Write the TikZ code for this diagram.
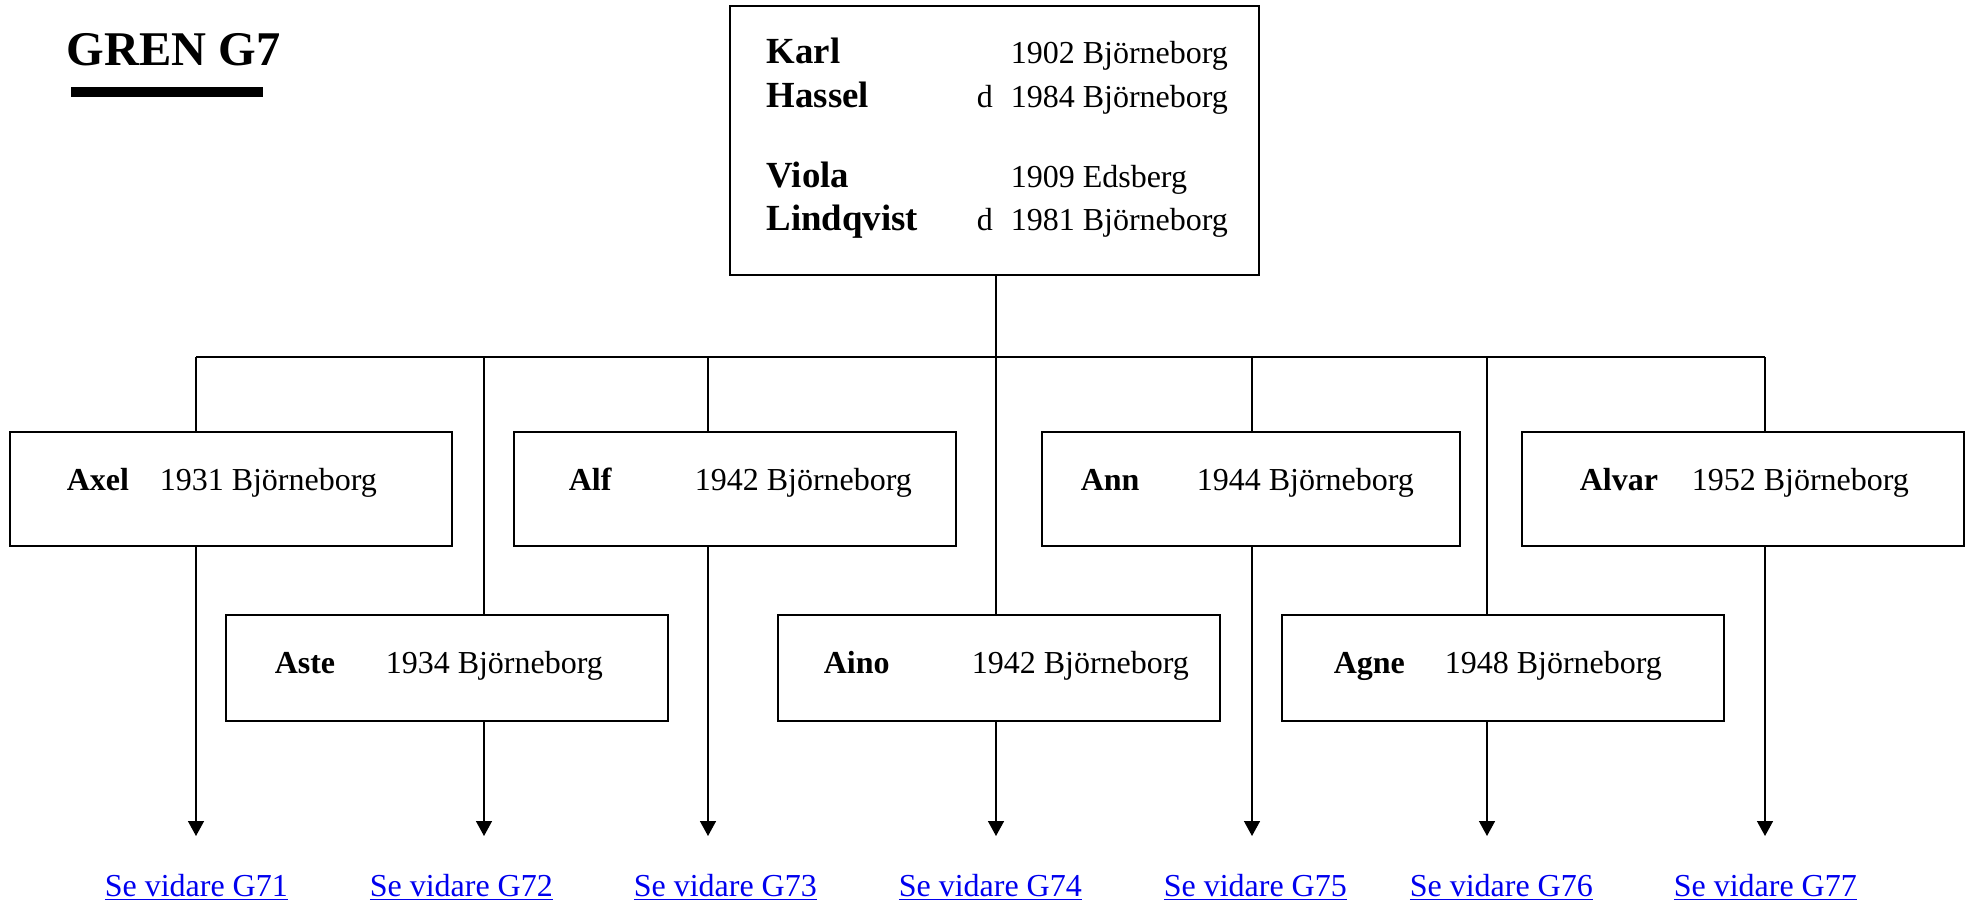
\documentclass[tikz,border=0pt]{standalone}
\usepackage{fontspec}
\setmainfont{Liberation Serif}
\usetikzlibrary{arrows.meta}
\definecolor{linkblue}{RGB}{0,0,238}

\begin{document}
\begin{tikzpicture}[x=0.5pt, y=-0.5pt, ->, >={Triangle[length=7.5pt,width=8pt]}, line width=0.75pt,
	box/.style={draw, rectangle, line width=1pt, inner sep=0pt, minimum width=221pt},
	upper box/.style={box, minimum height=57pt},
	lower box/.style={box, minimum height=53pt},
	given/.style={anchor=base west, inner sep=0pt, font=\fontsize{16}{19}\selectfont\bfseries},
	parent name/.style={given, font=\fontsize{18.4}{22}\selectfont\bfseries},
	dated/.style={anchor=base west, inner sep=0pt, font=\fontsize{16}{19}\selectfont},
	golink/.style={anchor=base west, inner sep=0pt, text=linkblue, font=\fontsize{16}{19}\selectfont}]
	\useasboundingbox (0,0) rectangle (1975,905);

	% rubrik
	\node[anchor=base west, inner sep=0pt, font=\fontsize{24.2}{29}\selectfont\bfseries] (title) at (66,65) {GREN G7};
	\fill[-] (71,87) rectangle (263,97);

	% foraldrar
	\node[box, minimum width=264.5pt, minimum height=134.5pt] (parent) at (994.5,140.5) {};
	\node[parent name] (karl) at (766,63) {Karl};
	\node[parent name] (hassel) at (766,107) {Hassel};
	\node[parent name] (viola) at (766,187) {Viola};
	\node[parent name] (lindqvist) at (766,230) {Lindqvist};
	\node[dated] (d1) at (976,107) {d};
	\node[dated] (d2) at (976,230) {d};
	\node[dated] (karl date) at (1010,63) {1902 Björneborg};
	\node[dated] (hassel date) at (1010,107) {1984 Björneborg};
	\node[dated] (viola date) at (1010,187) {1909 Edsberg};
	\node[dated] (lindqvist date) at (1010,230) {1981 Björneborg};

	% barn
	\node[upper box] (axel) at (230.5,489) {};
	\node[upper box] (alf) at (734.5,489) {};
	\node[upper box, minimum width=209pt] (ann) at (1251,489) {};
	\node[upper box] (alvar) at (1743,489) {};
	\node[lower box] (aste) at (447,668) {};
	\node[lower box] (aino) at (999,668) {};
	\node[lower box] (agne) at (1503,668) {};

	\node[given] (axel name) at (66,490) {Axel};
	\node[dated] (axel date) at (159,490) {1931 Björneborg};
	\node[given] (alf name) at (568,490) {Alf};
	\node[dated] (alf date) at (694,490) {1942 Björneborg};
	\node[given] (ann name) at (1080,490) {Ann};
	\node[dated] (ann date) at (1196,490) {1944 Björneborg};
	\node[given] (alvar name) at (1579,490) {Alvar};
	\node[dated] (alvar date) at (1691,490) {1952 Björneborg};
	\node[given] (aste name) at (274,673) {Aste};
	\node[dated] (aste date) at (385,673) {1934 Björneborg};
	\node[given] (aino name) at (823,673) {Aino};
	\node[dated] (aino date) at (971,673) {1942 Björneborg};
	\node[given] (agne name) at (1333,673) {Agne};
	\node[dated] (agne date) at (1444,673) {1948 Björneborg};

	% lankar
	\node[golink] (g71) at (104,896) {\underline{Se vidare G71}};
	\node[golink] (g72) at (369,896) {\underline{Se vidare G72}};
	\node[golink] (g73) at (633,896) {\underline{Se vidare G73}};
	\node[golink] (g74) at (898,896) {\underline{Se vidare G74}};
	\node[golink] (g75) at (1163,896) {\underline{Se vidare G75}};
	\node[golink] (g76) at (1409,896) {\underline{Se vidare G76}};
	\node[golink] (g77) at (1673,896) {\underline{Se vidare G77}};

	\coordinate (bus) at (0,357);
	\coordinate (a1) at (196,836);
	\coordinate (a2) at (484,836);
	\coordinate (a3) at (708,836);
	\coordinate (a4) at (996,836);
	\coordinate (a5) at (1252,836);
	\coordinate (a6) at (1487,836);
	\coordinate (a7) at (1765,836);

	\draw[-] (a1 |- bus) -- (a7 |- bus);
	\draw[-] (a4 |- parent.south) -- (a4 |- aino.north);
	\path[-, every edge/.style={draw}]
		(a1 |- bus) edge (a1 |- axel.north)
		(a2 |- bus) edge (a2 |- aste.north)
		(a3 |- bus) edge (a3 |- alf.north)
		(a5 |- bus) edge (a5 |- ann.north)
		(a6 |- bus) edge (a6 |- agne.north)
		(a7 |- bus) edge (a7 |- alvar.north);
	\path
		(a1 |- axel.south) edge (a1)
		(a2 |- aste.south) edge (a2)
		(a3 |- alf.south) edge (a3)
		(a4 |- aino.south) edge (a4)
		(a5 |- ann.south) edge (a5)
		(a6 |- agne.south) edge (a6)
		(a7 |- alvar.south) edge (a7);
\end{tikzpicture}
\end{document}
